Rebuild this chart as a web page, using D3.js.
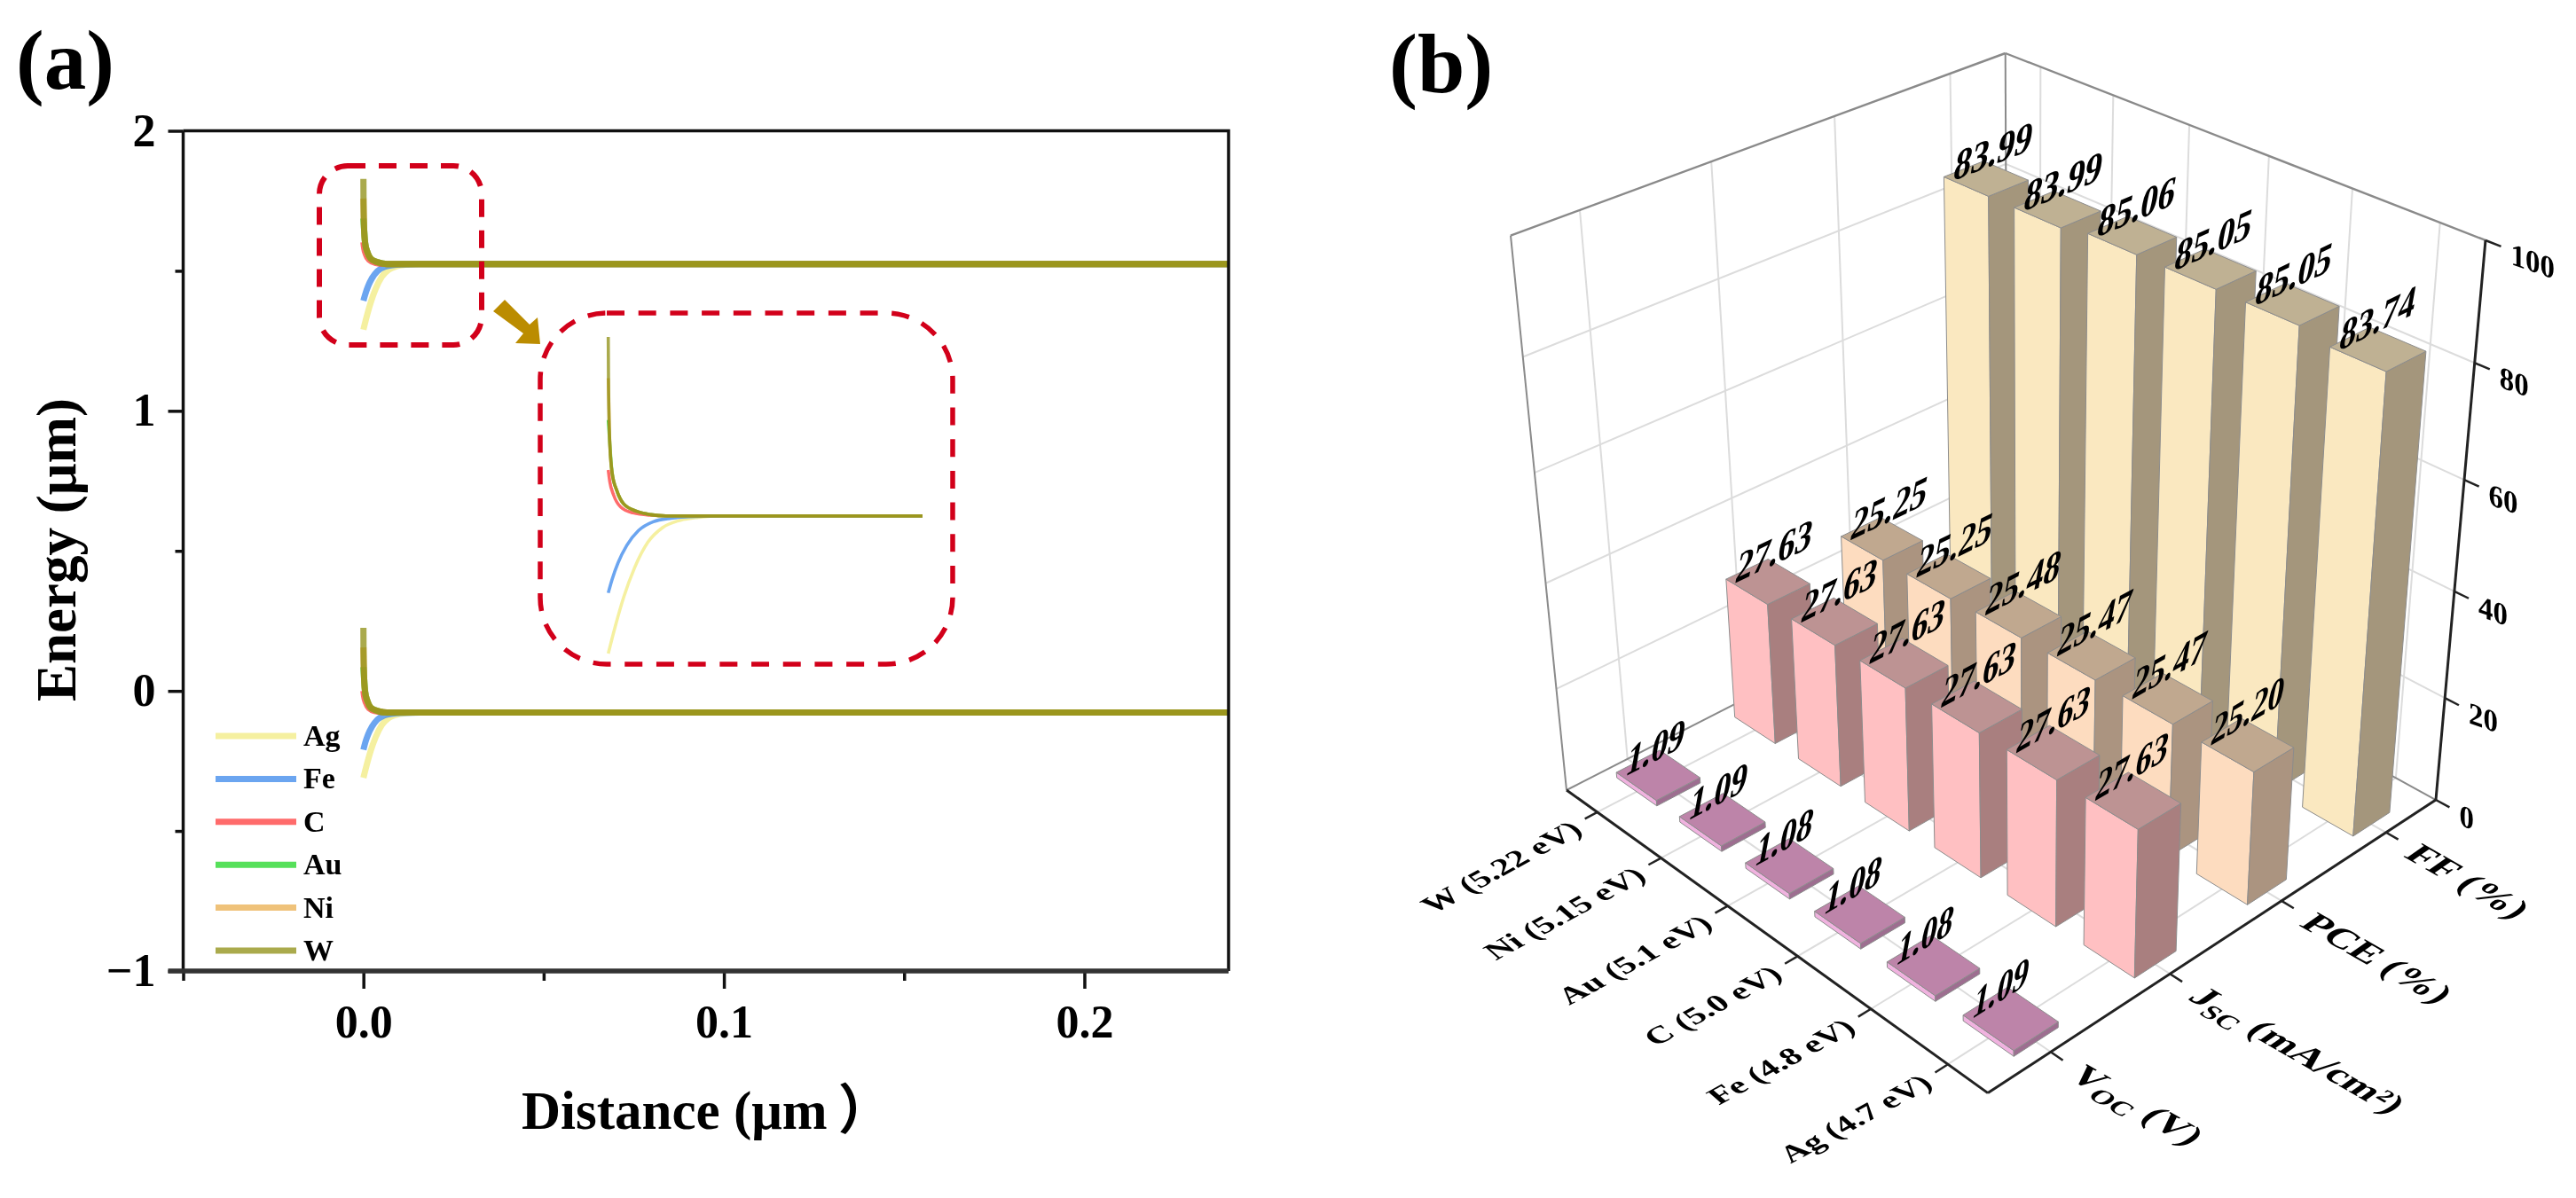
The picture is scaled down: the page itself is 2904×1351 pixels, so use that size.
<!DOCTYPE html>
<html><head><meta charset="utf-8">
<script src="https://d3js.org/d3.v7.min.js"></script>
<style>
html,body{margin:0;padding:0;background:#fff}
svg{display:block;font-family:"Liberation Serif","Times New Roman","Noto Sans CJK SC",serif;font-weight:bold;fill:#000;filter:blur(.6px)}
</style></head><body><div id="chart"></div>
<script>
// ---------- panel (a) data ----------
const metals = ["Ag","Fe","C","Au","Ni","W"];
const lineColors = ["#f2eb80","#3a87eb","#ff3939","#1ed523","#eaae4e","#8e8e10"];
const dW  = [0,.00004,.0002,.0005,.0011,.002,.0036,.0055,.0074,.24];
const dNi = [0,.00004,.0002,.0005,.0011,.002,.0036,.0055,.0074,.24];
const dAu = [0,.0001,.0002,.0005,.0011,.002,.0036,.0055,.0074,.24];
const dC  = [0,.0002,.0007,.0016,.0032,.0055,.0074,.24];
const dFe = [0,.0005,.00126,.0024,.0039,.0058,.0081,.0104,.0158,.24];
const dAg = [0,.0009,.002,.0034,.0051,.007,.0093,.0116,.0146,.24];
const cbW  = [1.828,1.738,1.647,1.597,1.567,1.544,1.532,1.526,1.524,1.524];
const cbNi = [1.758,1.738,1.647,1.597,1.567,1.544,1.532,1.526,1.524,1.524];
const cbAu = [1.687,1.667,1.647,1.597,1.567,1.544,1.532,1.526,1.524,1.524];
const cbC  = [1.602,1.582,1.559,1.539,1.529,1.525,1.524,1.524];
const cbFe = [1.393,1.416,1.444,1.474,1.499,1.514,1.520,1.5225,1.524,1.524];
const cbAg = [1.290,1.336,1.386,1.436,1.479,1.504,1.5165,1.5215,1.524,1.524];
const vbW  = [.225,.135,.044,-.006,-.036,-.059,-.070,-.076,-.077,-.077];
const vbNi = [.155,.135,.044,-.006,-.036,-.059,-.070,-.076,-.077,-.077];
const vbAu = [.085,.065,.044,-.006,-.036,-.059,-.070,-.076,-.077,-.077];
const vbC  = [0,-.019,-.042,-.062,-.072,-.076,-.077,-.077];
const vbFe = [-.21,-.185,-.157,-.127,-.102,-.087,-.081,-.0785,-.077,-.077];
const vbAg = [-.31,-.265,-.215,-.165,-.122,-.097,-.0845,-.0795,-.077,-.077];
const distances = [dAg,dFe,dC,dAu,dNi,dW];
const condBand  = [cbAg,cbFe,cbC,cbAu,cbNi,cbW];
const valBand   = [vbAg,vbFe,vbC,vbAu,vbNi,vbW];
const xMajor = [0,.1,.2], xMinor = [-.05,.05,.15];
const yMajor = [-1,0,1,2], yMinor = [-.5,.5,1.5];

// ---------- panel (b) data ----------
const devices = ["Ag (4.7 eV)","Fe (4.8 eV)","C (5.0 eV)","Au (5.1 eV)","Ni (5.15 eV)","W (5.22 eV)"];
const params  = ["VOC","JSC","PCE","FF"];
const vocVals = [1.09,1.08,1.08,1.08,1.09,1.09];
const jscVals = [27.63,27.63,27.63,27.63,27.63,27.63];
const pceVals = [25.20,25.47,25.47,25.48,25.25,25.25];
const ffVals  = [83.74,85.05,85.05,85.06,83.99,83.99];
const zTicks  = [0,20,40,60,80,100];
const seriesVals = [vocVals,jscVals,pceVals,ffVals];
const faceColors = [
 {l:"#f0b2df",r:"#9d6e90",t:"#bd84a9"},
 {l:"#ffc0c2",r:"#a97f7f",t:"#bd9393"},
 {l:"#fddcbf",r:"#ab9480",t:"#c0a88f"},
 {l:"#fae8c0",r:"#a4967c",t:"#bfb193"}];

const W=2904,H=1351;
const svg=d3.select("#chart").append("svg").attr("width",W).attr("height",H).attr("viewBox",[0,0,W,H]);
svg.append("rect").attr("width",W).attr("height",H).attr("fill","#fff");

// ========== panel a ==========
const x=d3.scaleLinear([-.05,.24],[206.5,1385]);
const y=d3.scaleLinear([-1,2],[1095,147.5]);
const a=svg.append("g");
a.append("text").text("(a)").attr("x",18).attr("y",100).attr("font-size",95);

const defs=svg.append("defs");
defs.append("clipPath").attr("id","clipMain").append("rect").attr("x",x(-.05)).attr("y",y(2)).attr("width",x(.24)-x(-.05)).attr("height",y(-1)-y(2));

const insetX=d3.scaleLinear([0,.0405],[685.7,1040]);
const insetY=d3.scaleLinear([1.524,1.828],[581.7,380]);
defs.append("clipPath").attr("id","clipInset").append("rect").attr("x",insetX(0)-5).attr("y",370).attr("width",insetX(.0405)-insetX(0)+5).attr("height",380);

function drawCurves(g,xs,ys,bands,w){
  metals.forEach((m,i)=>{
    bands.forEach(b=>{
      const pts=distances[i].map((d,k)=>[d,b[i][k]]);
      g.append("path").attr("d",d3.line().x(p=>xs(p[0])).y(p=>ys(p[1])).curve(d3.curveMonotoneX)(pts))
       .attr("fill","none").attr("stroke",lineColors[i]).attr("stroke-width",w).attr("stroke-opacity",.75);
    });
  });
}
drawCurves(a.append("g").attr("clip-path","url(#clipMain)"),x,y,[condBand,valBand],7);
drawCurves(a.append("g").attr("clip-path","url(#clipInset)"),insetX,insetY,[condBand],3.6);

// frame and axes
const styleAxis=g=>{g.select(".domain").remove();g.selectAll("line").attr("stroke","#111").attr("stroke-width",3.5);
  g.selectAll("text").attr("fill","#000").attr("font-size",52).attr("font-family","Liberation Serif").attr("font-weight","bold");};
a.append("g").attr("transform",`translate(0,${y(-1)})`).call(d3.axisBottom(x).tickValues(xMajor).tickSize(20).tickPadding(18).tickFormat(d3.format(".1f"))).call(styleAxis);
a.append("g").attr("transform",`translate(0,${y(-1)})`).call(d3.axisBottom(x).tickValues(xMinor).tickSize(11).tickFormat("")).call(styleAxis);
a.append("g").attr("transform",`translate(${x(-.05)},0)`).call(d3.axisLeft(y).tickValues(yMajor).tickSize(17).tickPadding(14).tickFormat(d=>d<0?"\u2212"+(-d):d)).call(styleAxis);
a.append("g").attr("transform",`translate(${x(-.05)},0)`).call(d3.axisLeft(y).tickValues(yMinor).tickSize(9).tickFormat("")).call(styleAxis);
a.append("path").attr("d",`M${x(-.05)},${y(2)}H${x(.24)}V${y(-1)}M${x(-.05)},${y(2)}V${y(-1)}`).attr("fill","none").attr("stroke","#111").attr("stroke-width",3.5);
a.append("path").attr("d",`M${x(-.05)-17},${y(-1)}H${x(.24)}`).attr("stroke","#333").attr("stroke-width",5.5);

a.append("text").text("Energy (\u03bcm)").attr("transform","translate(85,620) rotate(-90)").attr("text-anchor","middle").attr("font-size",63);
const distT=a.append("text").attr("x",588).attr("y",1273).attr("font-size",61);
distT.append("tspan").text("Distance (\u03bcm");
distT.append("tspan").attr("dx",12).text("\uff09");

// legend
const legendY=d3.scalePoint(metals,[830,1072]);
metals.forEach((m,i)=>{
  a.append("line").attr("x1",243).attr("x2",334).attr("y1",legendY(m)).attr("y2",legendY(m)).attr("stroke",lineColors[i]).attr("stroke-opacity",.75).attr("stroke-width",7);
  a.append("text").text(m).attr("x",342).attr("y",legendY(m)+11).attr("font-size",34);
});

// callouts
a.append("rect").attr("x",360).attr("y",187).attr("width",183).attr("height",202).attr("rx",32).attr("fill","none").attr("stroke","#d2001a").attr("stroke-width",6).attr("stroke-dasharray","20 15");
a.append("rect").attr("x",609).attr("y",353).attr("width",465).attr("height",396).attr("rx",75).attr("fill","none").attr("stroke","#d2001a").attr("stroke-width",5.5).attr("stroke-dasharray","20 15.7");
a.append("polygon").attr("points","556,351 569,338 597,366 606,358 609,388 581,387 590,376").attr("fill","#bb8c00");

// ========== panel b ==========
svg.append("text").text("(b)").attr("x",1566).attr("y",104).attr("font-size",96);

// projective camera fitted to the corners of the axis box
const F=[2241,1232.6];
const corners=[[[1,0,0],[2746,902]],[[0,1,0],[1766,891]],[[1,0,1],[2802,271]],[[0,1,1],[1703,265.6]],[[1,1,1],[2260.7,60]]];
function solveCamera(){
  const rows=[],rhs=[];
  corners.forEach(([p,q])=>{
    rows.push([p[0],p[1],p[2],0,0,0,-q[0]*p[0],-q[0]*p[1],-q[0]*p[2]]);rhs.push(q[0]-F[0]);
    rows.push([0,0,0,p[0],p[1],p[2],-q[1]*p[0],-q[1]*p[1],-q[1]*p[2]]);rhs.push(q[1]-F[1]);
  });
  const n=9,M=d3.range(n).map(i=>d3.range(n+1).map(j=>{
    let s=0;rows.forEach((r,k)=>{s+=r[i]*(j<n?r[j]:rhs[k]);});return s+(i===j?1e-9:0);}));
  for(let c=0;c<n;c++){
    let piv=c;for(let r=c+1;r<n;r++)if(Math.abs(M[r][c])>Math.abs(M[piv][c]))piv=r;
    [M[c],M[piv]]=[M[piv],M[c]];
    for(let r=0;r<n;r++)if(r!==c){const f=M[r][c]/M[c][c];for(let j=c;j<=n;j++)M[r][j]-=f*M[c][j];}
  }
  return M.map((r,i)=>r[n]/r[i]);
}
const cam=solveCamera();
const P=(X,Y,Z)=>{const w=1+cam[6]*X+cam[7]*Y+cam[8]*Z;
  return [(F[0]+cam[0]*X+cam[1]*Y+cam[2]*Z)/w,(F[1]+cam[3]*X+cam[4]*Y+cam[5]*Z)/w];};

const xBand=d3.scaleBand(params,[0,1]).paddingInner(.64).paddingOuter(.32);
const yBand=d3.scaleBand(devices,[0,1]).paddingInner(.36).paddingOuter(.18);
const zS=d3.scaleLinear([0,100],[0,1]);
const xC=k=>xBand(k)+xBand.bandwidth()/2, yC=k=>yBand(k)+yBand.bandwidth()/2;

const b=svg.append("g");
const seg=(g,p,q,c,w)=>g.append("line").attr("x1",p[0]).attr("y1",p[1]).attr("x2",q[0]).attr("y2",q[1]).attr("stroke",c).attr("stroke-width",w);
const grid="#dcdcdc";
zTicks.slice(1,-1).forEach(t=>{const z=zS(t);
  seg(b,P(0,1,z),P(1,1,z),grid,2);seg(b,P(1,1,z),P(1,0,z),grid,2);});
params.forEach(k=>{const X=xC(k);seg(b,P(X,1,0),P(X,1,1),grid,2);seg(b,P(X,0,0),P(X,1,0),grid,2);});
devices.forEach(k=>{const Y=yC(k);seg(b,P(1,Y,0),P(1,Y,1),grid,2);seg(b,P(0,Y,0),P(1,Y,0),grid,2);});
const gray="#8a8a8a";
seg(b,P(0,1,0),P(0,1,1),gray,2);seg(b,P(0,1,1),P(1,1,1),gray,2.4);seg(b,P(1,1,1),P(1,0,1),gray,2.4);
seg(b,P(1,1,0),P(1,1,1),gray,2);seg(b,P(0,1,0),P(1,1,0),gray,2);seg(b,P(1,1,0),P(1,0,0),gray,2);

// bars, painted far to near
const poly=(g,pts,f)=>g.append("polygon").attr("points",pts.map(p=>p.join(",")).join(" ")).attr("fill",f).attr("stroke","#8c8c8c").attr("stroke-width",1).attr("stroke-linejoin","round");
const bars=[];
params.forEach((pk,i)=>devices.forEach((dk,j)=>bars.push({pk,dk,i,j,v:seriesVals[i][j]})));
bars.sort((p,q)=>(q.i/4+q.j/6)-(p.i/4+p.j/6));
const barG=b.append("g"),labG=b.append("g");
bars.forEach(d=>{
  const x0=xBand(d.pk),x1=x0+xBand.bandwidth(),y0=yBand(d.dk),y1=y0+yBand.bandwidth(),z=zS(d.v),c=faceColors[d.i];
  poly(barG,[P(x0,y0,0),P(x0,y1,0),P(x0,y1,z),P(x0,y0,z)],c.l);
  poly(barG,[P(x0,y0,0),P(x1,y0,0),P(x1,y0,z),P(x0,y0,z)],c.r);
  poly(barG,[P(x0,y0,z),P(x1,y0,z),P(x1,y1,z),P(x0,y1,z)],c.t);
  const a0=P(x0,y1,z),a1=P(x1,y1,z),len=Math.hypot(a1[0]-a0[0],a1[1]-a0[1]);
  const ux=(a1[0]-a0[0])/len,uy=(a1[1]-a0[1])/len;
  labG.append("text").text(d.v.toFixed(2)).attr("font-size",42).attr("font-weight","bold")
    .attr("transform",`matrix(${ux},${uy},-.22,1.2,${a0[0]+9},${a0[1]+5})`);
});

// front edges and ticks
seg(b,P(0,0,0),P(1,0,0),"#222",3);seg(b,P(0,0,0),P(0,1,0),"#222",3);seg(b,P(1,0,0),P(1,0,1),"#222",3);
zTicks.forEach(t=>{const z=zS(t),p=P(1,0,z),q=P(1,-.028,z);seg(b,p,q,"#222",2.5);
  b.append("text").text(t).attr("font-size",35)
   .attr("transform",`matrix(.94,.33,0,1,${q[0]+11},${q[1]+20})`);});
devices.forEach(k=>{const Y=yC(k),p=P(0,Y,0),q=P(-.025,Y,0);seg(b,p,q,"#222",2.5);
  b.append("text").text(k).attr("text-anchor","end").attr("font-size",34)
   .attr("transform",`matrix(.99,-.54,.71,.62,${q[0]-1},${q[1]+15})`);});
const subLabels=[["V","OC"," (V)"],["J","SC"," (mA/cm\u00b2)"],["PCE","",""," (%)"],["FF","",""," (%)"]];
params.forEach((k,i)=>{const X=xC(k),p=P(X,0,0),q=P(X,-.025,0);seg(b,p,q,"#222",2.5);
  const t=b.append("text").attr("font-size",40).attr("transform",`matrix(1.0,.574,-.82,.57,${q[0]+5},${q[1]+19})`);
  const s=subLabels[i];
  t.append("tspan").text(s[0]);
  if(s[1]){t.append("tspan").attr("font-size",28).attr("dy",9).text(s[1]);
    t.append("tspan").attr("dy",-9).text(s[2]);}
  else t.append("tspan").text(s[3]);
});
</script></body></html>
